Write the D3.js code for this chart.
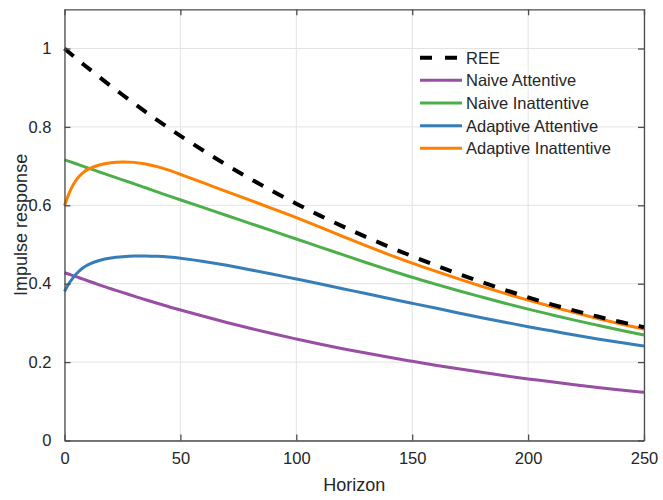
<!DOCTYPE html>
<html>
<head>
<meta charset="utf-8">
<script src="https://cdn.jsdelivr.net/npm/d3@7"></script>
<style>
  html, body { margin: 0; padding: 0; background: #fff; }
  svg { display: block; }
  text { font-family: "Liberation Sans", Arial, Helvetica, sans-serif; fill: #262626; }
</style>
</head>
<body>
<svg id="chart" width="663" height="500"></svg>
<script>
// Horizons at which each impulse response is sampled
const horizons = [0, 2, 4, 6, 8, 10, 15, 20, 25, 30, 35, 40, 45, 50, 60, 70, 80, 90, 100,
  110, 120, 130, 140, 150, 160, 170, 180, 190, 200, 210, 220, 230, 240, 250];

const ree = [1.000, 0.990, 0.980, 0.970, 0.960, 0.951, 0.927, 0.904, 0.882, 0.860, 0.838, 0.817,
  0.797, 0.777, 0.739, 0.702, 0.668, 0.635, 0.604, 0.574, 0.546, 0.519, 0.494, 0.470, 0.447,
  0.425, 0.404, 0.384, 0.365, 0.347, 0.331, 0.316, 0.302, 0.289];

const naiveAttentive = [0.428, 0.424, 0.420, 0.416, 0.412, 0.407, 0.397, 0.387, 0.378, 0.368,
  0.359, 0.350, 0.341, 0.333, 0.317, 0.301, 0.286, 0.272, 0.259, 0.246, 0.234, 0.223, 0.212,
  0.202, 0.192, 0.183, 0.174, 0.165, 0.157, 0.150, 0.142, 0.135, 0.129, 0.123];

const naiveInattentive = [0.716, 0.712, 0.708, 0.704, 0.700, 0.695, 0.685, 0.675, 0.665, 0.655,
  0.645, 0.634, 0.624, 0.614, 0.594, 0.574, 0.554, 0.534, 0.514, 0.494, 0.474, 0.454, 0.435,
  0.416, 0.399, 0.382, 0.366, 0.350, 0.335, 0.321, 0.307, 0.294, 0.281, 0.269];

const adaptiveAttentive = [0.380, 0.402, 0.418, 0.431, 0.441, 0.449, 0.460, 0.466, 0.469, 0.471,
  0.471, 0.470, 0.468, 0.465, 0.457, 0.447, 0.436, 0.424, 0.412, 0.400, 0.387, 0.375, 0.362,
  0.350, 0.338, 0.325, 0.313, 0.302, 0.290, 0.280, 0.269, 0.259, 0.250, 0.241];

const adaptiveInattentive = [0.599, 0.633, 0.656, 0.672, 0.684, 0.692, 0.704, 0.709, 0.711, 0.710,
  0.706, 0.699, 0.690, 0.679, 0.657, 0.635, 0.613, 0.591, 0.569, 0.545, 0.521, 0.497, 0.474,
  0.452, 0.432, 0.412, 0.393, 0.375, 0.358, 0.342, 0.326, 0.311, 0.297, 0.284];

const seriesNames = ["REE", "Naive Attentive", "Naive Inattentive", "Adaptive Attentive", "Adaptive Inattentive"];
const seriesValues = [ree, naiveAttentive, naiveInattentive, adaptiveAttentive, adaptiveInattentive];
const seriesColors = ["#000000", "#984ea3", "#4daf4a", "#377eb8", "#ff7f00"];

const xTicks = [0, 50, 100, 150, 200, 250];
const yTicks = [0, 0.2, 0.4, 0.6, 0.8, 1];

const svg = d3.select("#chart");
const plot = { left: 64.5, right: 644, top: 9.3, bottom: 440.5 };

const x = d3.scaleLinear().domain([0, 250]).range([plot.left, plot.right]);
const y = d3.scaleLinear().domain([0, 1.1]).range([plot.bottom, plot.top]);

// Grid
const grid = svg.append("g").attr("stroke", "#e3e3e3").attr("stroke-width", 1);
xTicks.forEach(t => grid.append("line")
  .attr("x1", x(t)).attr("x2", x(t)).attr("y1", plot.top).attr("y2", plot.bottom));
yTicks.forEach(t => grid.append("line")
  .attr("x1", plot.left).attr("x2", plot.right).attr("y1", y(t)).attr("y2", y(t)));

// Series
const line = d3.line().x((d, i) => x(horizons[i])).y(d => y(d)).curve(d3.curveBasis);
const drawOrder = [1, 2, 3, 4, 0];
drawOrder.forEach(k => {
  const isRee = k === 0;
  svg.append("path")
    .datum(seriesValues[k])
    .attr("d", line)
    .attr("fill", "none")
    .attr("stroke", seriesColors[k])
    .attr("stroke-width", isRee ? 4 : 3)
    .attr("stroke-dasharray", isRee ? "12,11" : null)
    .attr("stroke-linejoin", "round");
});

// Axes with inward ticks on all four sides
const tickLen = 6;
const axisColor = "#4d4d4d";
const xAxisB = d3.axisBottom(x).tickValues(xTicks).tickSizeInner(-tickLen).tickSizeOuter(0).tickPadding(12).tickFormat(d3.format("d"));
const xAxisT = d3.axisTop(x).tickValues(xTicks).tickSizeInner(-tickLen).tickSizeOuter(0).tickFormat("");
const yAxisL = d3.axisLeft(y).tickValues(yTicks).tickSizeInner(-tickLen).tickSizeOuter(0).tickPadding(13).tickFormat(d => d3.format("")(d));
const yAxisR = d3.axisRight(y).tickValues(yTicks).tickSizeInner(-tickLen).tickSizeOuter(0).tickFormat("");

function styleAxis(g) {
  g.select(".domain").attr("stroke", axisColor).attr("stroke-width", 1.3);
  g.selectAll(".tick line").attr("stroke", axisColor).attr("stroke-width", 1.3);
  g.selectAll(".tick text").attr("fill", "#262626")
    .style("font-family", "'Liberation Sans', Arial, Helvetica, sans-serif")
    .style("font-size", "16.5px");
}

svg.append("g").attr("transform", `translate(0,${plot.bottom})`).call(xAxisB).call(styleAxis);
svg.append("g").attr("transform", `translate(0,${plot.top})`).call(xAxisT).call(styleAxis);
svg.append("g").attr("transform", `translate(${plot.left},0)`).call(yAxisL).call(styleAxis);
svg.append("g").attr("transform", `translate(${plot.right},0)`).call(yAxisR).call(styleAxis);

// Axis labels
svg.append("text")
  .attr("x", (plot.left + plot.right) / 2).attr("y", 490.5)
  .attr("text-anchor", "middle").style("font-size", "18px")
  .text("Horizon");
svg.append("text")
  .attr("transform", `translate(27,${(plot.top + plot.bottom) / 2}) rotate(-90)`)
  .attr("text-anchor", "middle").style("font-size", "18px")
  .text("Impulse response");

// Legend (no box)
const legend = svg.append("g");
const rowY = d3.scaleLinear().domain([0, 4]).range([57.7, 148.3]);
seriesNames.forEach((name, k) => {
  const ly = rowY(k);
  legend.append("line")
    .attr("x1", 420).attr("x2", 462).attr("y1", ly).attr("y2", ly)
    .attr("stroke", seriesColors[k])
    .attr("stroke-width", k === 0 ? 4 : 3)
    .attr("stroke-dasharray", k === 0 ? "12,13" : null);
  legend.append("text")
    .attr("x", 466).attr("y", ly).attr("dy", "0.36em")
    .style("font-size", "16.5px")
    .text(name);
});
</script>
</body>
</html>
